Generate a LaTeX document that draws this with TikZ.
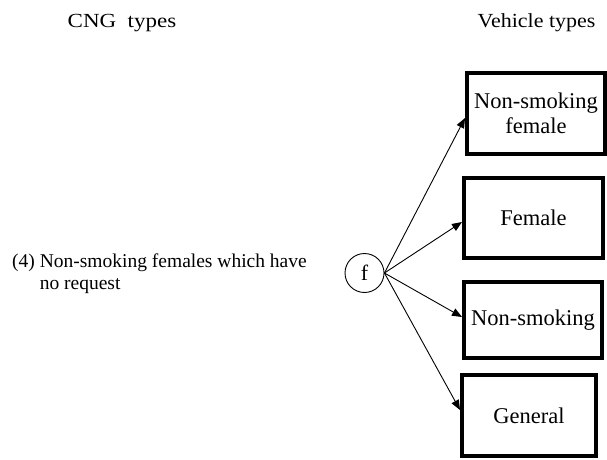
\documentclass[tikz,border=0pt]{standalone}
\usepackage{fontspec}
\setmainfont{Liberation Serif}
\usetikzlibrary{arrows.meta,calc}
\begin{document}
\begin{tikzpicture}[x=1pt,y=-1pt,
  vbox/.style={draw,line width=4pt,inner sep=0pt,align=center,font=\fontsize{22.5}{25}\selectfont},
  conn/.style={line width=0.9pt,-{Triangle[length=10pt,width=8pt]}},
  head/.style={inner sep=0pt,anchor=base,font=\fontsize{20}{24}\selectfont}]
\useasboundingbox (0,0) rectangle (607,459);
\node[head] (cng) at (122,27) {\scalebox{1.15}[1]{CNG\ \ types}};
\node[head] (veh) at (536.5,27) {\scalebox{1.1}[1]{Vehicle types}};
\node[anchor=base west,inner sep=0pt,font=\fontsize{19.5}{22}\selectfont] (req) at (12,267)
  {\begin{tabular}[t]{@{}l@{\ }l@{}}(4)&Non-smoking females which have\\ &no request\end{tabular}};
\node[circle,draw,line width=0.9pt,minimum size=39pt,inner sep=0pt,font=\fontsize{22}{24}\selectfont] (f) at (364.5,273) {f};
\node[vbox,minimum width=138pt,minimum height=81pt] (b1) at (536,113.5) {Non-smoking\\female};
\node[vbox,minimum width=139pt,minimum height=80pt] (b2) at (533.5,218) {Female};
\node[vbox,minimum width=138pt,minimum height=76pt] (b3) at (533,320) {Non-smoking};
\node[vbox,minimum width=134pt,minimum height=81pt] (b4) at (529,415.5) {General};
\draw[conn] (f.east) -- ([yshift=-4.5pt]b1.west);
\draw[conn] (f.east) -- ([yshift=-4pt]b2.west);
\draw[conn] (f.east) -- ([yshift=3pt]b3.west);
\draw[conn] (f.east) -- ([yshift=5.5pt]b4.west);
\end{tikzpicture}
\end{document}
